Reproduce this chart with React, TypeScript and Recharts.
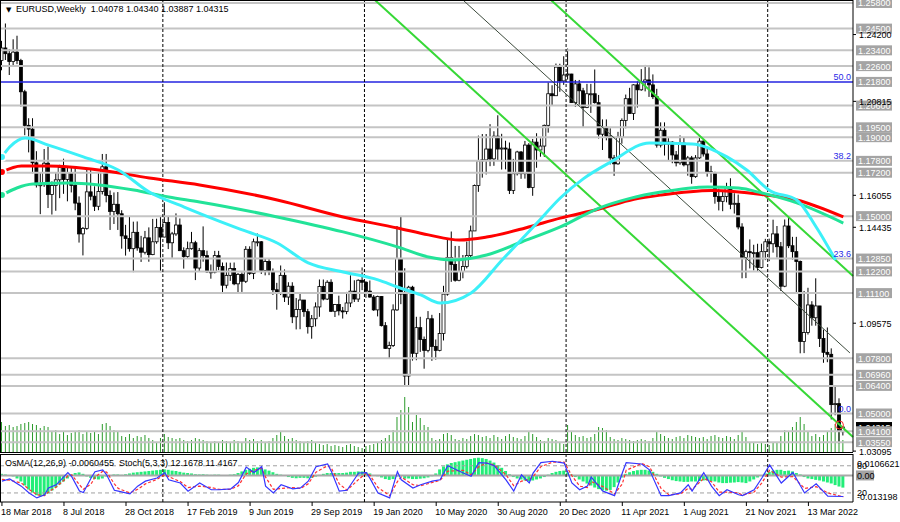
import React from 'react';
import { ComposedChart, Bar, Line, XAxis, YAxis, ReferenceLine, ReferenceDot } from 'recharts';

const FONT = "'Liberation Sans', Arial, sans-serif";

// EURUSD weekly candles, week of 18 Mar 2018 (index 0) to week of 15 May 2022 (index 217)
const opens = [
  // 2018
  1.2288, 1.2352, 1.2323, 1.2283, 1.2331, 1.2288, 1.2130, 1.1960, 1.1941, 1.1770,
  1.1658, 1.1659, 1.1768, 1.1610, 1.1655, 1.1684, 1.1746, 1.1686, 1.1720, 1.1656,
  1.1566, 1.1410, 1.1438, 1.1623, 1.1601, 1.1550, 1.1625, 1.1750, 1.1605, 1.1524,
  1.1560, 1.1512, 1.1400, 1.1387, 1.1335, 1.1418, 1.1339, 1.1317, 1.1390, 1.1305,
  1.1370, 1.1443,
  // 2019
  1.1394, 1.1468, 1.1365, 1.1410, 1.1455, 1.1325, 1.1295, 1.1335, 1.1365, 1.1237,
  1.1325, 1.1300, 1.1218, 1.1216, 1.1300, 1.1245, 1.1150, 1.1200, 1.1235, 1.1157,
  1.1205, 1.1170, 1.1332, 1.1210, 1.1370, 1.1370, 1.1225, 1.1270, 1.1220, 1.1127,
  1.1110, 1.1200, 1.1090, 1.1145, 1.0990, 1.1027, 1.1075, 1.1016, 1.0940, 1.0980,
  1.1040, 1.1143, 1.1080, 1.1165, 1.1018, 1.1052, 1.1020, 1.1017, 1.1060, 1.1120,
  1.1080, 1.1175,
  // 2020
  1.1165, 1.1120, 1.1090, 1.1025, 1.1093, 1.0945, 1.0830, 1.0845, 1.1025, 1.1285,
  1.1105, 1.0690, 1.1140, 1.0805, 1.0935, 1.0875, 1.0820, 1.0980, 1.0840, 1.0820,
  1.0905, 1.1105, 1.1290, 1.1255, 1.1175, 1.1220, 1.1245, 1.1300, 1.1425, 1.1655,
  1.1780, 1.1785, 1.1840, 1.1790, 1.1905, 1.1840, 1.1845, 1.1840, 1.1630, 1.1715,
  1.1825, 1.1715, 1.1860, 1.1645, 1.1875, 1.1835, 1.1855, 1.1960, 1.2120, 1.2110,
  1.2255, 1.2185,
  // 2021
  1.2215, 1.2220, 1.2075, 1.2170, 1.2135, 1.2050, 1.2120, 1.2120, 1.2075, 1.1915,
  1.1950, 1.1905, 1.1795, 1.1765, 1.1900, 1.1985, 1.2095, 1.2020, 1.2165, 1.2140,
  1.2180, 1.2190, 1.2165, 1.2105, 1.1860, 1.1935, 1.1865, 1.1875, 1.1810, 1.1770,
  1.1870, 1.1760, 1.1795, 1.1700, 1.1795, 1.1880, 1.1815, 1.1725, 1.1720, 1.1600,
  1.1575, 1.1600, 1.1645, 1.1560, 1.1565, 1.1445, 1.1290, 1.1320, 1.1315, 1.1315,
  1.1240, 1.1320,
  // 2022
  1.1370, 1.1360, 1.1410, 1.1345, 1.1145, 1.1450, 1.1350, 1.1320, 1.1270, 1.0865,
  1.0910, 1.1050, 1.0985, 1.1045, 1.0880, 1.0810, 1.0800, 1.0545, 1.0550, 1.04078,
];

const highs = [
  1.2388, 1.2476, 1.2346, 1.2396, 1.2414, 1.2297, 1.2140, 1.1996, 1.1996, 1.1829,
  1.1723, 1.1840, 1.1852, 1.1676, 1.1720, 1.1760, 1.1791, 1.1749, 1.1750, 1.1746,
  1.1600, 1.1445, 1.1734, 1.1733, 1.1651, 1.1721, 1.1815, 1.1815, 1.1630, 1.1620,
  1.1622, 1.1530, 1.1456, 1.1500, 1.1472, 1.1473, 1.1400, 1.1425, 1.1443, 1.1486,
  1.1487, 1.1497,
  1.1570, 1.1500, 1.1420, 1.1514, 1.1488, 1.1342, 1.1371, 1.1420, 1.1375, 1.1339,
  1.1448, 1.1325, 1.1255, 1.1324, 1.1324, 1.1265, 1.1265, 1.1264, 1.1265, 1.1212,
  1.1215, 1.1348, 1.1347, 1.1386, 1.1412, 1.1374, 1.1286, 1.1282, 1.1235, 1.1162,
  1.1250, 1.1230, 1.1165, 1.1165, 1.1085, 1.1109, 1.1075, 1.1030, 1.0999, 1.1063,
  1.1179, 1.1179, 1.1175, 1.1180, 1.1055, 1.1097, 1.1040, 1.1116, 1.1200, 1.1175,
  1.1180, 1.1240,
  1.1170, 1.1174, 1.1100, 1.1097, 1.1095, 1.0963, 1.0864, 1.1053, 1.1450, 1.1496,
  1.1236, 1.1147, 1.1147, 1.0990, 1.0990, 1.0890, 1.1019, 1.1000, 1.0875, 1.1009,
  1.1147, 1.1384, 1.1422, 1.1349, 1.1349, 1.1303, 1.1371, 1.1452, 1.1660, 1.1908,
  1.1916, 1.1916, 1.1966, 1.1930, 1.2011, 1.1917, 1.1882, 1.1873, 1.1790, 1.1831,
  1.1830, 1.1881, 1.1870, 1.1891, 1.1920, 1.1894, 1.1964, 1.2177, 1.2163, 1.2273,
  1.2272, 1.2310,
  1.2349, 1.2221, 1.2190, 1.2190, 1.2150, 1.2170, 1.2170, 1.2243, 1.2114, 1.1990,
  1.1990, 1.1945, 1.1810, 1.1927, 1.1995, 1.2116, 1.2150, 1.2168, 1.2183, 1.2245,
  1.2266, 1.2254, 1.2218, 1.2145, 1.1975, 1.1975, 1.1895, 1.1880, 1.1830, 1.1909,
  1.1900, 1.1805, 1.1805, 1.1809, 1.1909, 1.1885, 1.1845, 1.1755, 1.1725, 1.1640,
  1.1624, 1.1669, 1.1692, 1.1616, 1.1609, 1.1464, 1.1330, 1.1382, 1.1355, 1.1360,
  1.1360, 1.1385,
  1.1386, 1.1482, 1.1450, 1.1369, 1.1483, 1.1495, 1.1395, 1.1395, 1.1275, 1.1121,
  1.1137, 1.1069, 1.1185, 1.1045, 1.0925, 1.0936, 1.0830, 1.0641, 1.0577, 1.04340,
];

const lows = [
  1.2239, 1.2291, 1.2215, 1.2260, 1.2270, 1.2055, 1.1910, 1.1823, 1.1717, 1.1645,
  1.1510, 1.1648, 1.1541, 1.1508, 1.1527, 1.1591, 1.1613, 1.1575, 1.1620, 1.1530,
  1.1366, 1.1301, 1.1431, 1.1580, 1.1526, 1.1530, 1.1610, 1.1570, 1.1430, 1.1460,
  1.1430, 1.1335, 1.1300, 1.1320, 1.1216, 1.1325, 1.1268, 1.1306, 1.1269, 1.1302,
  1.1360, 1.1216,
  1.1393, 1.1333, 1.1289, 1.1400, 1.1323, 1.1234, 1.1288, 1.1330, 1.1176, 1.1220,
  1.1269, 1.1212, 1.1183, 1.1210, 1.1226, 1.1110, 1.1134, 1.1172, 1.1150, 1.1106,
  1.1116, 1.1161, 1.1202, 1.1181, 1.1347, 1.1207, 1.1200, 1.1201, 1.1101, 1.1026,
  1.1100, 1.1065, 1.1050, 1.0958, 1.0926, 1.0927, 1.0990, 1.0905, 1.0879, 1.0941,
  1.0990, 1.1073, 1.1075, 1.1014, 1.0989, 1.0997, 1.0981, 1.1003, 1.1039, 1.1065,
  1.1065, 1.1125,
  1.1086, 1.1087, 1.1020, 1.0992, 1.0941, 1.0827, 1.0778, 1.0837, 1.1020, 1.1054,
  1.0635, 1.0637, 1.0768, 1.0770, 1.0812, 1.0727, 1.0810, 1.0767, 1.0773, 1.0815,
  1.0870, 1.1097, 1.1167, 1.1168, 1.1170, 1.1185, 1.1235, 1.1290, 1.1425, 1.1623,
  1.1695, 1.1711, 1.1753, 1.1755, 1.1783, 1.1736, 1.1737, 1.1612, 1.1612, 1.1706,
  1.1689, 1.1690, 1.1641, 1.1603, 1.1745, 1.1801, 1.1800, 1.1923, 1.2058, 1.2110,
  1.2130, 1.2165,
  1.2192, 1.2075, 1.2053, 1.2058, 1.1952, 1.2047, 1.2023, 1.2070, 1.1893, 1.1835,
  1.1884, 1.1762, 1.1704, 1.1760, 1.1867, 1.1945, 1.2020, 1.1987, 1.2050, 1.2135,
  1.2132, 1.2104, 1.2093, 1.1847, 1.1848, 1.1807, 1.1780, 1.1768, 1.1752, 1.1760,
  1.1752, 1.1705, 1.1664, 1.1694, 1.1790, 1.1802, 1.1700, 1.1670, 1.1563, 1.1529,
  1.1525, 1.1570, 1.1535, 1.1513, 1.1433, 1.1185, 1.1186, 1.1235, 1.1225, 1.1221,
  1.1235, 1.1277,
  1.1272, 1.1315, 1.1290, 1.1121, 1.1140, 1.1338, 1.1280, 1.1106, 1.0805, 1.0806,
  1.0900, 1.0945, 1.0945, 1.0837, 1.0757, 1.0760, 1.0470, 1.0491, 1.0349, 1.03887,
];

const closes = [
  1.2352, 1.2323, 1.2283, 1.2331, 1.2288, 1.2130, 1.1960, 1.1941, 1.1770, 1.1658,
  1.1659, 1.1768, 1.1610, 1.1655, 1.1684, 1.1746, 1.1686, 1.1720, 1.1656, 1.1566,
  1.1410, 1.1438, 1.1623, 1.1601, 1.1550, 1.1625, 1.1750, 1.1605, 1.1524, 1.1560,
  1.1512, 1.1400, 1.1387, 1.1335, 1.1418, 1.1339, 1.1317, 1.1390, 1.1305, 1.1370,
  1.1443, 1.1394,
  1.1468, 1.1365, 1.1410, 1.1455, 1.1325, 1.1295, 1.1335, 1.1365, 1.1237, 1.1325,
  1.1300, 1.1218, 1.1216, 1.1300, 1.1245, 1.1150, 1.1200, 1.1235, 1.1157, 1.1205,
  1.1170, 1.1332, 1.1210, 1.1370, 1.1370, 1.1225, 1.1270, 1.1220, 1.1127, 1.1110,
  1.1200, 1.1090, 1.1145, 1.0990, 1.1027, 1.1075, 1.1016, 1.0940, 1.0980, 1.1040,
  1.1143, 1.1080, 1.1165, 1.1018, 1.1052, 1.1020, 1.1017, 1.1060, 1.1120, 1.1080,
  1.1175, 1.1165,
  1.1120, 1.1090, 1.1025, 1.1093, 1.0945, 1.0830, 1.0845, 1.1025, 1.1285, 1.1105,
  1.0690, 1.1140, 1.0805, 1.0935, 1.0875, 1.0820, 1.0980, 1.0840, 1.0820, 1.0905,
  1.1105, 1.1290, 1.1255, 1.1175, 1.1220, 1.1245, 1.1300, 1.1425, 1.1655, 1.1780,
  1.1785, 1.1840, 1.1790, 1.1905, 1.1840, 1.1845, 1.1840, 1.1630, 1.1715, 1.1825,
  1.1715, 1.1860, 1.1645, 1.1875, 1.1835, 1.1855, 1.1960, 1.2120, 1.2110, 1.2255,
  1.2185, 1.2215,
  1.2220, 1.2075, 1.2170, 1.2135, 1.2050, 1.2120, 1.2120, 1.2075, 1.1915, 1.1950,
  1.1905, 1.1795, 1.1765, 1.1900, 1.1985, 1.2095, 1.2020, 1.2165, 1.2140, 1.2180,
  1.2190, 1.2165, 1.2105, 1.1860, 1.1935, 1.1865, 1.1875, 1.1810, 1.1770, 1.1870,
  1.1760, 1.1795, 1.1700, 1.1795, 1.1880, 1.1815, 1.1725, 1.1720, 1.1600, 1.1575,
  1.1600, 1.1645, 1.1560, 1.1565, 1.1445, 1.1290, 1.1320, 1.1315, 1.1315, 1.1240,
  1.1320, 1.1370,
  1.1360, 1.1410, 1.1345, 1.1145, 1.1450, 1.1350, 1.1320, 1.1270, 1.0865, 1.0910,
  1.1050, 1.0985, 1.1045, 1.0880, 1.0810, 1.0800, 1.0545, 1.0550, 1.0410, 1.04315,
];

// tick volume, thousands
const volumes = [
  60, 52, 54, 50, 52, 56, 58, 60, 56, 54, 48, 52, 50,
  40, 44, 36, 40, 34, 38, 40, 44, 36, 42, 38, 40, 36,
  56, 58, 52, 44, 40,
  32, 30, 36, 28, 32, 30, 34, 28, 24, 20, 28,
  36, 30, 28, 26, 28, 24, 22, 24, 28, 26, 24, 22, 20, 22, 20,
  24, 22, 20, 24, 22, 20, 28, 24, 26, 22, 24, 20, 22, 28, 34,
  40, 32, 26, 28, 24, 22, 20, 22, 24, 20,
  16, 14, 16, 12, 14, 12, 10, 14, 16, 12, 10, 8, 12, 14,
  16, 18, 24, 28, 34, 44,
  70, 84, 110, 90, 60, 74, 68, 54, 50,
  28, 24, 26, 36, 38, 34, 26, 24, 28, 26, 32,
  36, 34, 30, 32, 28, 34, 30, 26,
  32, 36, 30, 28, 26, 32, 40, 36, 30, 24, 22, 28, 26, 24, 20, 16,
  54, 40, 34, 30, 32, 28, 30, 36, 50, 48, 44,
  30, 26, 24, 28, 26, 24, 22, 24, 26, 24, 22, 28,
  40, 36, 32, 28, 26, 30, 32, 28, 34, 32, 30,
  28, 30, 26, 32, 34, 30, 28, 32, 30, 26, 34, 40, 30,
  20, 18, 16, 20, 16, 14, 18, 20,
  32, 44, 40, 50, 60,
  70, 56, 40, 32, 36, 30, 34,
  40, 48, 56, 60, 24,
];

// OsMA(12,26,9) histogram
const osma = [
  0.0008, 0.0005, 0.0002, -0.0005, -0.0015, -0.003, -0.005, -0.007, -0.0085, -0.0098,
  -0.0104, -0.010, -0.009, -0.0075, -0.006, -0.0045, -0.003, -0.0015,
  0.0005, 0.0012, 0.0015, 0.0008, -0.0005, -0.0012, -0.0018, -0.002, -0.0015, -0.0005,
  0.0002, 0.0005, 0.0005, 0.0003, 0.0006, 0.0010, 0.0014, 0.0016, 0.0018, 0.0020,
  0.0022, 0.0024, 0.0026, 0.0028, 0.0030, 0.0028, 0.0024,
  0.0022, 0.0018, 0.0014, 0.0012, 0.0010, 0.0006, 0.0005, 0.0006, 0.0004, 0.0003,
  0.0004, 0.0004, 0.0002, 0.0002, 0.0004, 0.0006, 0.0012, 0.0020, 0.0028, 0.0033,
  0.0038, 0.0040, 0.0036, 0.0030, 0.0024, 0.0016, 0.0008, 0.0004, -0.0002, -0.0008,
  -0.0012, -0.0014, -0.0012, -0.0012, -0.0014, -0.0012, -0.0006, 0.0003, 0.0008, 0.0012,
  0.0012, 0.0012, 0.0012, 0.0012, 0.0014, 0.0018, 0.0018, 0.0020, 0.0020, 0.0016,
  0.0010, 0.0002, -0.0004, -0.0010, -0.0018, -0.0022, -0.0018, -0.0005, -0.0002, -0.0016,
  -0.0015, -0.0018, -0.0018, -0.0016, -0.0014, -0.0010, -0.0004,
  0.001, 0.003, 0.0045, 0.0055, 0.0062, 0.0066, 0.007, 0.0074, 0.0078, 0.0082,
  0.0086, 0.0088, 0.0086, 0.0082, 0.0074, 0.0064, 0.0052, 0.0038, 0.0022, 0.0006,
  -0.0008, -0.0015, -0.002, -0.0025, -0.0028, -0.0025, -0.002, -0.0015,
  -0.0008, 0.0004, 0.0012, 0.0018, 0.0022, 0.0024, 0.0015, 0.0005, -0.0008, -0.002,
  -0.003, -0.004, -0.005, -0.006, -0.0068, -0.0074, -0.0076, -0.0072, -0.0058, -0.0035,
  -0.001, 0.0008, 0.0016, 0.0022, 0.0026, 0.0028, 0.0028, 0.0025, 0.0018,
  0.0008, -0.0005, -0.0012, -0.0018, -0.0024, -0.0028, -0.003, -0.0032, -0.0032, -0.0030,
  -0.0030, -0.0028, -0.0025, -0.0025, -0.0028, -0.003, -0.0035, -0.0038, -0.0038, -0.0036,
  -0.0035, -0.0033, -0.0035, -0.0038, -0.0030, -0.002, -0.001, 0.0002, 0.001, 0.0018,
  0.0024, 0.0028, 0.0028, 0.0022, 0.0024, 0.002, 0.0012, 0.0005, -0.0008, -0.0015,
  -0.0018, -0.0022, -0.0025, -0.003, -0.0035, -0.004, -0.0048, -0.0055, -0.0060455,
];

// Stoch(5,3,3): [week, main, signal]
const stoch: [number, number, number][] = [
  [0, 46, 50], [2, 51, 48], [5, 35, 42], [7, 20, 28], [9, 9, 16], [11, 16, 14], [12, 31, 22],
  [14, 38, 33], [16, 56, 48], [17, 65, 58], [18, 56, 60], [20, 24, 38], [21, 21, 28], [23, 53, 40],
  [24, 67, 55], [26, 71, 68], [27, 60, 66], [29, 26, 40], [30, 24, 30], [33, 18, 20], [35, 35, 28],
  [37, 46, 40], [40, 53, 50], [42, 65, 60], [43, 49, 56], [46, 42, 45], [48, 24, 32], [51, 42, 35],
  [54, 27, 32], [56, 27, 28], [59, 29, 28], [61, 43, 36], [63, 77, 62], [65, 65, 70], [67, 78, 74],
  [68, 35, 55], [70, 20, 28], [72, 38, 30], [75, 29, 32], [77, 31, 30], [79, 46, 40], [81, 78, 66],
  [84, 84, 80], [85, 67, 74], [87, 24, 40], [89, 26, 26], [92, 64, 50], [94, 65, 64], [95, 51, 58],
  [97, 20, 32], [100, 9, 14], [102, 67, 45], [103, 49, 55], [106, 31, 38], [108, 38, 36], [111, 46, 43],
  [113, 49, 48], [115, 80, 68], [119, 64, 70], [121, 57, 60], [123, 87, 78], [125, 86, 86], [127, 80, 82],
  [130, 49, 60], [132, 24, 36], [134, 60, 46], [136, 42, 50], [137, 64, 56], [139, 87, 78], [142, 90, 88],
  [145, 86, 88], [147, 42, 58], [149, 27, 35], [151, 35, 32], [152, 55, 45], [155, 24, 34], [158, 14, 18],
  [160, 64, 40], [161, 87, 70], [165, 84, 85], [167, 71, 78], [170, 14, 30], [172, 14, 16], [175, 20, 18],
  [177, 38, 30], [178, 24, 28], [181, 65, 52], [183, 35, 45], [185, 14, 22], [187, 27, 22], [190, 16, 20],
  [191, 14, 15], [194, 27, 22], [196, 53, 42], [198, 82, 70], [201, 42, 55], [204, 65, 56], [207, 20, 30],
  [210, 40, 34], [213, 13, 20], [217, 12.1678, 11.4167],
];

// moving averages: [week, price]
const maCyan: [number, number][] = [
  [0, 1.1800], [2, 1.1850], [6, 1.1896], [12, 1.1860], [21, 1.1800], [30, 1.1734], [38, 1.1622],
  [47, 1.1546], [56, 1.1475], [62, 1.1430], [71, 1.1364], [79, 1.1263], [88, 1.1217], [97, 1.1177],
  [102, 1.1141], [108, 1.1101], [113, 1.1060], [121, 1.1111], [129, 1.1278], [138, 1.1465], [144, 1.1592],
  [150, 1.1690], [157, 1.1774], [167, 1.1871], [178, 1.1866], [187, 1.1800], [192, 1.1735], [198, 1.1630],
  [205, 1.1582], [210, 1.1445], [215, 1.1278],
];
const maGreen: [number, number][] = [
  [0, 1.1607], [8, 1.1663], [17, 1.1668], [25, 1.1658], [34, 1.1632], [43, 1.1597], [51, 1.1572],
  [71, 1.1496], [88, 1.1420], [102, 1.1344], [110, 1.1293], [116, 1.1278], [125, 1.1303], [134, 1.1369],
  [144, 1.1445], [154, 1.1541], [162, 1.1590], [170, 1.1622], [182, 1.1648], [190, 1.1642], [196, 1.1617],
  [205, 1.1567], [217, 1.1465],
];
const maRed: [number, number][] = [
  [0, 1.1724], [5, 1.1754], [12, 1.1754], [25, 1.1734], [38, 1.1693], [51, 1.1658], [71, 1.1582],
  [88, 1.1496], [102, 1.1440], [110, 1.1405], [118, 1.1379], [125, 1.1394], [135, 1.1440], [144, 1.1490],
  [154, 1.1536], [163, 1.1585], [170, 1.1607], [183, 1.1630], [196, 1.1610], [205, 1.1582], [217, 1.1496],
];

// drawn objects
const levels = [1.258, 1.245, 1.234, 1.226, 1.206, 1.195, 1.19, 1.178, 1.172, 1.15, 1.1285, 1.122,
  1.111, 1.078, 1.0696, 1.064, 1.05, 1.041, 1.0355];
const fiboMain = 1.218;
const fibos: [string, number][] = [['50.0', 1.218], ['38.2', 1.178], ['23.6', 1.1285], ['0.0', 1.05]];
const scaleTicks = [1.242, 1.20815, 1.16055, 1.14435, 1.09575, 1.03095];
const lastPrice = 1.04315;
const yearStarts = [41.5, 93.5, 145.5, 197.5];
const channels: { a: [number, number]; b: [number, number]; thin: boolean }[] = [
  { a: [96.2, 1.2595], b: [219.5, 1.0381], thin: false },
  { a: [141.6, 1.2595], b: [219.5, 1.1197], thin: false },
  { a: [118.9, 1.2595], b: [218.7, 1.0807], thin: true },
];
const dateTicks = [0, 16, 32, 48, 64, 80, 96, 112, 128, 144, 160, 176, 192, 208];
const dateLabels = ['18 Mar 2018', '8 Jul 2018', '28 Oct 2018', '17 Feb 2019', '9 Jun 2019', '29 Sep 2019',
  '19 Jan 2020', '10 May 2020', '30 Aug 2020', '20 Dec 2020', '11 Apr 2021', '1 Aug 2021', '21 Nov 2021',
  '13 Mar 2022'];
const osmaTicks = [0.0106621, 0, -0.013198];

const candleRows = closes.map((c, k) => {
  const hi = Math.max(highs[k], opens[k], c);
  const lo = Math.min(lows[k], opens[k], c);
  return { i: k, o: opens[k], c, hi, lo, range: [lo, hi] };
});
const volumeRows = volumes.map((v, k) => ({ i: k, v }));
const osmaRows = osma.map((v, k) => ({ i: k, v }));
const stochMainRows = stoch.map(([i, m]) => ({ i, v: m }));
const stochSignalRows = stoch.map(([i, , s]) => ({ i, v: s }));
const toRows = (pts: [number, number][]) => pts.map(([i, v]) => ({ i, v }));

const X_DOMAIN = [-0.5, 219.5];
const last = closes.length - 1;

function Candle(props: any) {
  const { x, y, width, height, payload } = props;
  if (x == null || y == null) return null;
  const top = Math.min(y, y + height);
  const h = Math.abs(height);
  const { o, c, hi, lo } = payload;
  const k = hi - lo > 0 ? h / (hi - lo) : 0;
  const cx = x + width / 2;
  const yo = top + (hi - o) * k;
  const yc = top + (hi - c) * k;
  const bull = c >= o;
  return (
    <g>
      <line x1={cx} x2={cx} y1={top} y2={top + h} stroke="#000" strokeWidth={1} />
      <rect x={cx - 1.5} y={Math.min(yo, yc)} width={3} height={Math.max(1, Math.abs(yo - yc))}
        fill={bull ? '#fff' : '#000'} stroke="#000" strokeWidth={0.8} />
    </g>
  );
}

function PriceTick(props: any) {
  const { x, y, payload } = props;
  const v = payload.value;
  const t = v.toFixed(5);
  if (v === lastPrice) {
    return (
      <g>
        <rect x={x + 3} y={y - 5} width={36} height={10} fill="#000" />
        <text x={x + 5} y={y + 3.5} fontSize={9} fontFamily={FONT} fill="#fff">{t}</text>
      </g>
    );
  }
  if (levels.includes(v) || v === fiboMain) {
    return (
      <g>
        <rect x={x + 3} y={y - 5} width={36} height={10} fill="#a4a4a4" />
        <text x={x + 5} y={y + 3.5} fontSize={9} fontFamily={FONT} fill="#fff">{t}</text>
      </g>
    );
  }
  return (
    <g>
      <line x1={x} x2={x + 3} y1={y} y2={y} stroke="#000" />
      <text x={x + 6} y={y + 3.5} fontSize={9} fontFamily={FONT} fill="#000">{t}</text>
    </g>
  );
}

function OsmaTick(props: any) {
  const { x, y, payload } = props;
  const v = payload.value;
  if (v === 0) {
    return (
      <g>
        <rect x={x + 3} y={y - 5} width={18} height={10} fill="#a4a4a4" />
        <text x={x + 4} y={y + 3.5} fontSize={9} fontFamily={FONT} fill="#000">0.00</text>
      </g>
    );
  }
  return (
    <text x={x + 4} y={v > 0 ? y + 13 : y - 2.5} fontSize={9} fontFamily={FONT} fill="#000">{String(v)}</text>
  );
}

function DateTick(props: any) {
  const { x, y, payload } = props;
  const k = dateTicks.indexOf(payload.value);
  return (
    <g>
      <line x1={x} x2={x} y1={y} y2={y + 4} stroke="#000" />
      <text x={x - 1} y={y + 13} fontSize={9} fontFamily={FONT} fill="#000">{dateLabels[k]}</text>
    </g>
  );
}

const abs = (s: React.CSSProperties): React.CSSProperties => ({ position: 'absolute', ...s });

export default function App() {
  // boxes first, black scale labels last so they stay readable
  const priceTicks = [fiboMain, lastPrice, ...levels, ...scaleTicks];
  const header = `EURUSD,Weekly  ${opens[last].toFixed(5)} ${highs[last].toFixed(5)} ${lows[last].toFixed(5)} ${closes[last].toFixed(5)}`;
  const subHeader = `OsMA(12,26,9) ${osma[last]}  Stoch(5,3,3) ${stoch[stoch.length - 1][1].toFixed(4)} ${stoch[stoch.length - 1][2].toFixed(4)}`;
  return (
    <div style={abs({ left: 0, top: 0, width: 900, height: 522, background: '#fff', overflow: 'hidden', fontFamily: FONT })}>
      {/* volume underlay */}
      <div style={abs({ left: 0, top: 0 })}>
        <ComposedChart width={900} height={453} data={volumeRows} margin={{ top: 0, right: 47, bottom: 1, left: 0 }}>
          <XAxis dataKey="i" type="number" domain={X_DOMAIN} allowDataOverflow hide />
          <YAxis yAxisId="v" domain={[0, 904]} allowDataOverflow hide />
          <Bar yAxisId="v" dataKey="v" barSize={1} fill="#2a9a2a" isAnimationActive={false} />
        </ComposedChart>
      </div>

      {/* price panel */}
      <div style={abs({ left: 0, top: 0 })}>
        <ComposedChart width={900} height={462} data={candleRows} margin={{ top: 0, right: 0, bottom: 10, left: 0 }}>
          <XAxis dataKey="i" type="number" domain={X_DOMAIN} allowDataOverflow hide />
          <YAxis orientation="right" width={47} domain={[1.0305, 1.2595]} allowDataOverflow ticks={priceTicks}
            interval={0} tick={PriceTick} tickLine={false} tickSize={0} tickMargin={0} axisLine={{ stroke: '#000' }} />
          {levels.map((p) => (
            <ReferenceLine key={p} y={p} stroke="#c4c4c4" strokeWidth={2} />
          ))}
          <ReferenceLine y={fiboMain} stroke="#2424e0" strokeWidth={1.5} />
          {fibos.map(([t, p]) => (
            <ReferenceLine key={t} y={p} stroke="#000" strokeOpacity={0}
              label={{ value: t, position: 'insideBottomRight', offset: 2, fill: '#2a2ae6', fontSize: 9, fontFamily: FONT }} />
          ))}
          {yearStarts.map((x) => (
            <ReferenceLine key={x} x={x} stroke="#000" strokeDasharray="3 2" />
          ))}
          {channels.map((ch, k) => (
            <ReferenceLine key={k} ifOverflow="visible"
              segment={[{ x: ch.a[0], y: ch.a[1] }, { x: ch.b[0], y: ch.b[1] }]}
              stroke={ch.thin ? '#3c4a3c' : '#36d836'} strokeWidth={ch.thin ? 1 : 2} />
          ))}
          <Bar dataKey="range" barSize={3} shape={Candle} isAnimationActive={false} />
          <Line data={toRows(maRed)} dataKey="v" type="monotone" stroke="#ff0000" strokeWidth={3} dot={false} isAnimationActive={false} />
          <Line data={toRows(maGreen)} dataKey="v" type="monotone" stroke="#22e398" strokeWidth={3} dot={false} isAnimationActive={false} />
          <Line data={toRows(maCyan)} dataKey="v" type="monotone" stroke="#3cf0f8" strokeWidth={3} dot={false} isAnimationActive={false} />
          <ReferenceDot x={216} y={1.0442} r={4} fill="none" stroke="#ff2a2a" strokeWidth={1} />
        </ComposedChart>
      </div>
      <div style={abs({ left: 0, top: 0, width: 853, height: 453, borderTop: '1px solid #000', borderLeft: '1px solid #000', borderBottom: '1px solid #000', boxSizing: 'border-box', pointerEvents: 'none' })} />

      {/* oscillator panel */}
      <div style={abs({ left: 0, top: 454 })}>
        <ComposedChart width={900} height={68} data={osmaRows} margin={{ top: 0, right: 0, bottom: 0, left: 0 }}>
          <XAxis dataKey="i" type="number" domain={X_DOMAIN} allowDataOverflow ticks={dateTicks} interval={0}
            tick={DateTick} tickLine={false} tickSize={0} tickMargin={0} height={20} axisLine={{ stroke: '#000' }} />
          <YAxis yAxisId="o" orientation="right" width={47} domain={[-0.013198, 0.0106621]} allowDataOverflow
            ticks={osmaTicks} interval={0} tick={OsmaTick} tickLine={false} tickSize={0} tickMargin={0} axisLine={{ stroke: '#000' }} />
          <YAxis yAxisId="s" domain={[0, 106]} allowDataOverflow hide />
          <ReferenceLine yAxisId="o" y={0} stroke="#a8a8a8" strokeWidth={2} />
          <ReferenceLine yAxisId="s" y={80} stroke="#a0a0a0" strokeDasharray="4 3"
            label={{ value: '80', position: 'right', offset: 4, fill: '#000', fontSize: 9, fontFamily: FONT }} />
          <ReferenceLine yAxisId="s" y={20} stroke="#a0a0a0" strokeDasharray="4 3"
            label={{ value: '20', position: 'right', offset: 4, fill: '#000', fontSize: 9, fontFamily: FONT }} />
          {yearStarts.map((x) => (
            <ReferenceLine key={x} yAxisId="o" x={x} stroke="#000" strokeDasharray="3 2" />
          ))}
          <Bar yAxisId="o" dataKey="v" barSize={3} fill="#22ee78" isAnimationActive={false} />
          <Line yAxisId="s" data={stochSignalRows} dataKey="v" type="linear" stroke="#ff3030" strokeWidth={1.2}
            strokeDasharray="3 2" dot={false} isAnimationActive={false} />
          <Line yAxisId="s" data={stochMainRows} dataKey="v" type="linear" stroke="#3535ff" strokeWidth={1.2}
            dot={false} isAnimationActive={false} />
        </ComposedChart>
      </div>
      <div style={abs({ left: 0, top: 454, width: 853, height: 48, borderTop: '1px solid #000', borderLeft: '1px solid #000', boxSizing: 'border-box', pointerEvents: 'none' })} />

      {/* titles */}
      <div style={abs({ left: 6, top: 5, fontSize: 7, lineHeight: '11px', fontFamily: "'DejaVu Sans', sans-serif" })}>▼</div>
      <div style={abs({ left: 16, top: 4, fontSize: 9, lineHeight: '11px', whiteSpace: 'pre', color: '#000' })}>{header}</div>
      <div style={abs({ left: 5, top: 458, fontSize: 9, lineHeight: '11px', whiteSpace: 'pre', color: '#000' })}>{subHeader}</div>
    </div>
  );
}
